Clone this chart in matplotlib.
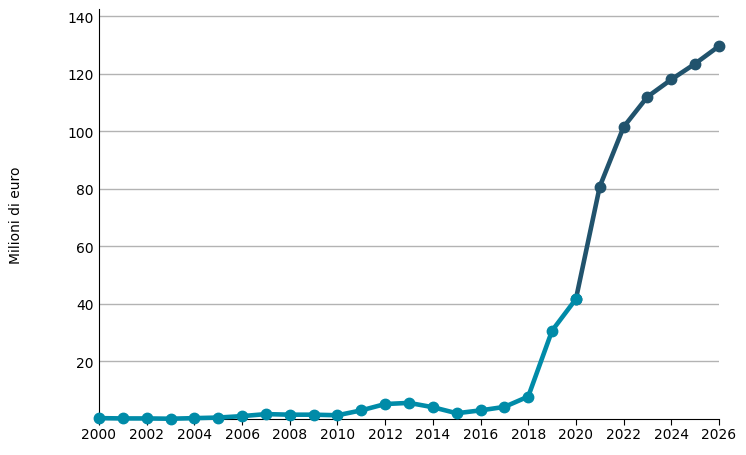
import matplotlib
matplotlib.use("Agg")
import matplotlib.pyplot as plt

years_hist = list(range(2000, 2021))
values_hist = [0.3, 0.2, 0.2, 0.1, 0.3, 0.5, 1.0, 1.7, 1.5, 1.5, 1.3, 3.0, 5.2, 5.6, 4.1,
               2.0, 3.0, 4.2, 7.8, 30.7, 41.7]
years_fc = list(range(2020, 2027))
values_fc = [41.7, 80.8, 101.5, 112.0, 118.0, 123.5, 129.6]
xticks = list(range(2000, 2027, 2))
yticks = [20, 40, 60, 80, 100, 120, 140]

fig = plt.figure(figsize=(7.46, 4.56), dpi=100)
ax = fig.add_axes([99/746, 1 - 420/456, 620/746, 410/456])

teal = "#008BA8"
dark = "#21536D"
ax.plot(years_fc, values_fc, color=dark, lw=3.3, marker="o", ms=7.5, zorder=3,
        solid_capstyle="round", clip_on=False)
ax.plot(years_hist, values_hist, color=teal, lw=3.3, marker="o", ms=7.5, zorder=4,
        solid_capstyle="round", clip_on=False)

ax.set_xlim(2000, 2026)
ax.set_ylim(0, 142.5)
ax.set_xticks(xticks)
ax.set_yticks(yticks)
ax.yaxis.grid(True, color="#b3b3b3", lw=1)
ax.set_axisbelow(True)
for s in ["top", "right"]:
    ax.spines[s].set_visible(False)
ax.spines["left"].set_color("black")
ax.spines["bottom"].set_color("black")
ax.tick_params(axis="y", length=0, labelsize=10, pad=4)
ax.tick_params(axis="x", length=4, labelsize=10, pad=2)
fig.text(16/746, 1 - 215/456, "Milioni di euro", rotation=90, va="center", ha="center",
         fontsize=10)

fig.savefig("out.png", dpi=100)
